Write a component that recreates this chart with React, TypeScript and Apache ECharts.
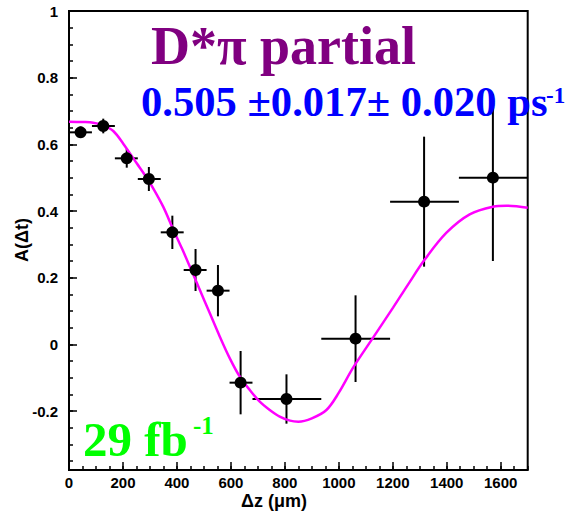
import React, { useEffect, useRef } from "react";
import * as echarts from "echarts";

// Data points (Δz in µm)
const dzCenters = [43, 127, 214, 296, 383, 469, 552, 636, 806, 1062, 1316, 1571];
const binLow = [0, 85, 170, 255, 340, 425, 510, 595, 680, 935, 1190, 1445];
const binHigh = [85, 170, 255, 340, 425, 510, 595, 680, 935, 1190, 1445, 1700];
const asym = [0.636, 0.655, 0.558, 0.496, 0.336, 0.223, 0.161, -0.115, -0.164, 0.017, 0.428, 0.5];
const asymErr = [0.017, 0.022, 0.028, 0.036, 0.05, 0.063, 0.077, 0.095, 0.074, 0.13, 0.195, 0.25];

// Fit curve
const curveX = [0, 50, 90, 127, 164, 201, 251, 281, 312, 349, 386, 420, 448, 485, 522, 559, 596, 633, 670, 707, 744, 781, 819, 850, 900, 954, 1000, 1053, 1127, 1201, 1257, 1319, 1399, 1485, 1571, 1621, 1700];
const curveY = [0.668, 0.667, 0.665, 0.657, 0.64, 0.602, 0.543, 0.508, 0.468, 0.413, 0.345, 0.285, 0.233, 0.163, 0.093, 0.023, -0.042, -0.097, -0.137, -0.172, -0.197, -0.217, -0.229, -0.232, -0.222, -0.197, -0.145, -0.07, 0.02, 0.11, 0.18, 0.255, 0.335, 0.39, 0.413, 0.416, 0.41];

// Axes
const xMin = 0;
const xMax = 1700;
const xMajor = 200;
const xMinor = 50;
const yMin = -0.377;
const yMax = 1;
const yMajor = 0.2;
const yMinor = 0.05;

const SANS = "'Liberation Sans', Arial, Helvetica, sans-serif";
const SERIF = "'Liberation Serif', 'Times New Roman', serif";

export default function App() {
  const ref = useRef<HTMLDivElement>(null);

  useEffect(() => {
    if (!ref.current) return;
    const chart = echarts.init(ref.current, undefined, { renderer: "svg" });

    const errData = dzCenters.map((x, i) => [x, asym[i], binLow[i], binHigh[i], asymErr[i]]);
    const pts = dzCenters.map((x, i) => [x, asym[i]]);
    const curve = curveX.map((x, i) => [x, curveY[i]]);

    const yFmt = (v: number) => {
      const r = Math.round(v / yMajor) * yMajor;
      if (Math.abs(v - r) > 1e-6) return "";
      return String(+r.toFixed(1));
    };
    const xFmt = (v: number) => (Math.abs(v % xMajor) < 1e-6 ? String(v) : "");

    const tickLabel = { fontFamily: SANS, fontWeight: "bold" as const, fontSize: 15, color: "#000" };
    const noLine = { show: false, onZero: false };

    chart.setOption({
      animation: false,
      backgroundColor: "#fff",
      grid: {
        left: 69,
        top: 11,
        right: 39.3,
        bottom: 41,
        show: true,
        borderColor: "#000",
        borderWidth: 2,
        backgroundColor: "transparent",
      },
      xAxis: [
        {
          type: "value",
          min: xMin,
          max: xMax,
          interval: xMajor,
          position: "bottom",
          axisLine: noLine,
          splitLine: { show: false },
          axisTick: { show: true, inside: true, length: 8, lineStyle: { color: "#000", width: 1.5 } },
          axisLabel: { ...tickLabel, margin: 5, formatter: xFmt, showMaxLabel: false },
        },
        {
          type: "value",
          min: xMin,
          max: xMax,
          interval: xMinor,
          position: "bottom",
          axisLine: noLine,
          splitLine: { show: false },
          axisTick: { show: true, inside: true, length: 4, lineStyle: { color: "#000", width: 1.5 } },
          axisLabel: { show: false },
        },
      ],
      yAxis: [
        {
          type: "value",
          min: yMin,
          max: yMax,
          splitNumber: 7,
          minInterval: yMajor,
          maxInterval: yMajor,
          position: "left",
          axisLine: noLine,
          splitLine: { show: false },
          axisTick: { show: true, inside: true, length: 8, lineStyle: { color: "#000", width: 1.5 } },
          axisLabel: { ...tickLabel, margin: 11, formatter: yFmt },
        },
        {
          type: "value",
          min: yMin,
          max: yMax,
          splitNumber: 28,
          minInterval: yMinor,
          maxInterval: yMinor,
          position: "left",
          offset: 0,
          axisLine: noLine,
          splitLine: { show: false },
          axisTick: { show: true, inside: true, length: 4, lineStyle: { color: "#000", width: 1.5 } },
          axisLabel: { show: false },
        },
      ],
      series: [
        {
          type: "custom",
          xAxisIndex: 0,
          yAxisIndex: 0,
          z: 2,
          clip: false,
          data: errData,
          encode: { x: 0, y: 1 },
          renderItem: (_params: any, api: any) => {
            const x = api.value(0);
            const y = api.value(1);
            const lo = api.value(2);
            const hi = api.value(3);
            const e = api.value(4);
            const a = api.coord([lo, y]);
            const b = api.coord([hi, y]);
            const c = api.coord([x, y - e]);
            const d = api.coord([x, y + e]);
            const st = { stroke: "#000", lineWidth: 2 };
            return {
              type: "group",
              children: [
                { type: "line", shape: { x1: a[0], y1: a[1], x2: b[0], y2: b[1] }, style: st },
                { type: "line", shape: { x1: c[0], y1: c[1], x2: d[0], y2: d[1] }, style: st },
              ],
            };
          },
        },
        {
          type: "line",
          xAxisIndex: 0,
          yAxisIndex: 0,
          z: 3,
          data: curve,
          smooth: 0.35,
          showSymbol: false,
          symbol: "none",
          lineStyle: { color: "#ff00ff", width: 2.5 },
        },
        {
          type: "scatter",
          xAxisIndex: 0,
          yAxisIndex: 0,
          z: 4,
          data: pts,
          symbol: "circle",
          symbolSize: 12,
          itemStyle: { color: "#000", opacity: 1 },
        },
      ],
      graphic: [
        {
          type: "text",
          x: 151,
          y: 46,
          z: 10,
          style: {
            text: "D*π partial",
            font: `bold 54px ${SERIF}`,
            fill: "#800080",
            align: "left",
            verticalAlign: "middle",
          },
        },
        {
          type: "text",
          x: 141,
          y: 101.5,
          z: 10,
          style: {
            text: "0.505 ±0.017± 0.020 ps",
            font: `bold 42.6px ${SERIF}`,
            fill: "#0000ff",
            align: "left",
            verticalAlign: "middle",
          },
        },
        {
          type: "text",
          x: 546,
          y: 95,
          z: 10,
          style: {
            text: "-1",
            font: `bold 23px ${SERIF}`,
            fill: "#0000ff",
            align: "left",
            verticalAlign: "middle",
          },
        },
        {
          type: "text",
          x: 83,
          y: 439.5,
          z: 10,
          style: {
            text: "29 fb",
            font: `bold 49px ${SERIF}`,
            fill: "#00ff00",
            align: "left",
            verticalAlign: "middle",
          },
        },
        {
          type: "text",
          x: 193,
          y: 425,
          z: 10,
          style: {
            text: "-1",
            font: `bold 25px ${SERIF}`,
            fill: "#00ff00",
            align: "left",
            verticalAlign: "middle",
          },
        },
        {
          type: "text",
          x: 22,
          y: 240,
          rotation: Math.PI / 2,
          z: 10,
          style: {
            text: "A(Δt)",
            font: `bold 18px ${SANS}`,
            fill: "#000",
            align: "center",
            verticalAlign: "middle",
          },
        },
        {
          type: "text",
          x: 274,
          y: 501,
          z: 10,
          style: {
            text: "Δz (μm)",
            font: `bold 18px ${SANS}`,
            fill: "#000",
            align: "center",
            verticalAlign: "middle",
          },
        },
      ],
    });

    return () => chart.dispose();
  }, []);

  return (
    <div
      ref={ref}
      style={{ position: "fixed", left: 0, top: 0, width: 567, height: 511, background: "#fff" }}
    />
  );
}
